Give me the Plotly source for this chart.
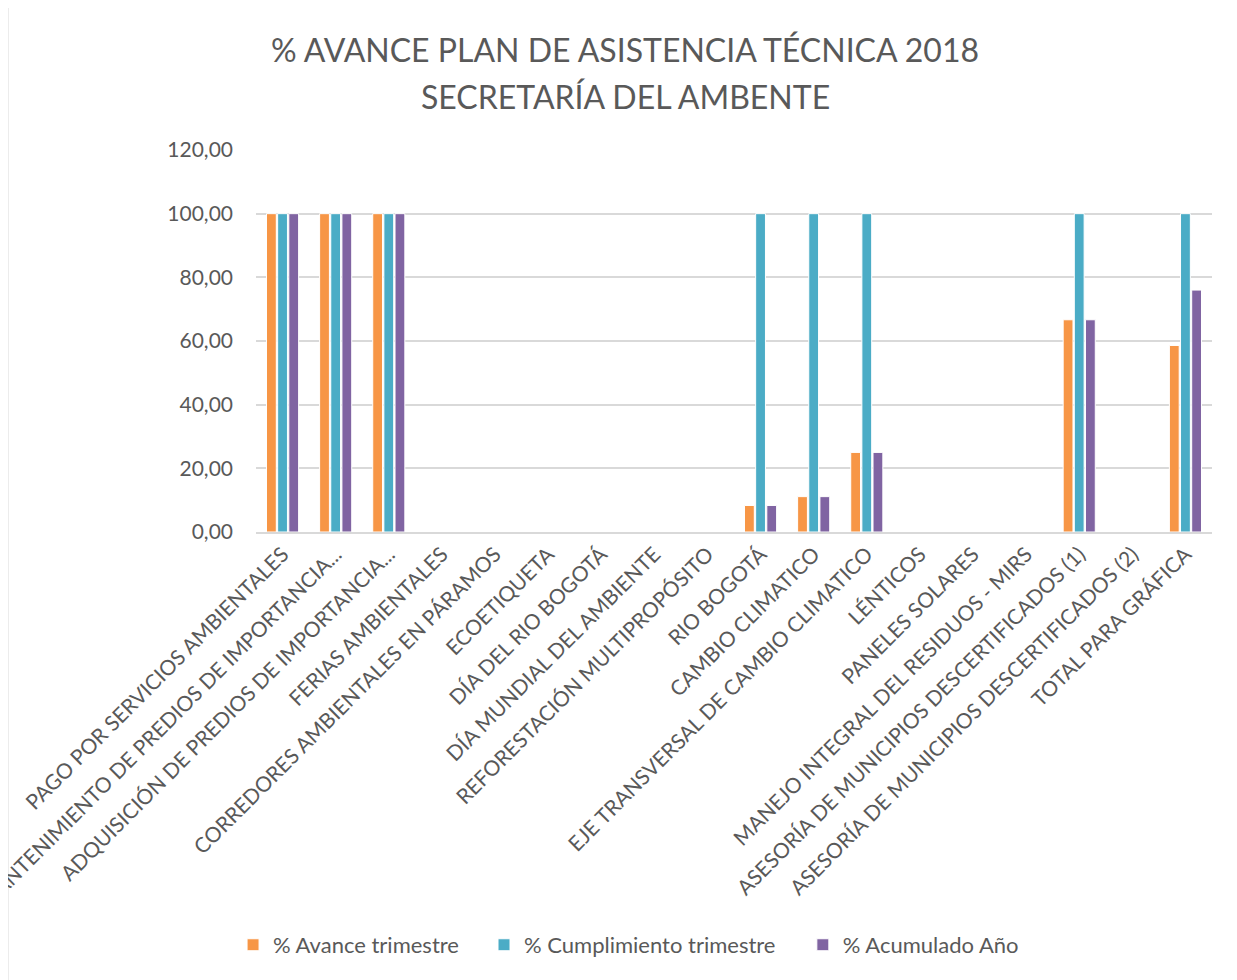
import plotly.graph_objects as go

categories = [
    "PAGO POR SERVICIOS AMBIENTALES",
    "MANTENIMIENTO DE PREDIOS DE IMPORTANCIA...",
    "ADQUISICIÓN DE PREDIOS DE IMPORTANCIA...",
    "FERIAS AMBIENTALES",
    "CORREDORES AMBIENTALES EN PÁRAMOS",
    "ECOETIQUETA",
    "DÍA DEL RIO BOGOTÁ",
    "DÍA MUNDIAL DEL AMBIENTE",
    "REFORESTACIÓN MULTIPROPÓSITO",
    "RIO BOGOTÁ",
    "CAMBIO CLIMATICO",
    "EJE TRANSVERSAL DE CAMBIO CLIMATICO",
    "LÉNTICOS",
    "PANELES SOLARES",
    "MANEJO INTEGRAL DEL RESIDUOS - MIRS",
    "ASESORÍA DE MUNICIPIOS DESCERTIFICADOS (1)",
    "ASESORÍA DE MUNICIPIOS DESCERTIFICADOS (2)",
    "TOTAL PARA GRÁFICA",
]

avance = [100, 100, 100, 0, 0, 0, 0, 0, 0, 8.33, 11.11, 25, 0, 0, 0, 66.67, 0, 58.6]
cumplimiento = [100, 100, 100, 0, 0, 0, 0, 0, 0, 100, 100, 100, 0, 0, 0, 100, 0, 100]
acumulado = [100, 100, 100, 0, 0, 0, 0, 0, 0, 8.33, 11.11, 25, 0, 0, 0, 66.67, 0, 76.0]

series_names = ["% Avance trimestre", "% Cumplimiento trimestre", "% Acumulado Año"]
colors = ["#F79646", "#4BACC6", "#8064A2"]
title_lines = ["% AVANCE PLAN DE ASISTENCIA TÉCNICA 2018", "SECRETARÍA DEL AMBENTE"]

font_family = "Lato, 'Open Sans', sans-serif"
text_color = "#595959"

legend_ids = ["legend", "legend2", "legend3"]
legend_x = [-0.024, 0.2385, 0.572]

fig = go.Figure()
for name, vals, col, lid in zip(series_names, [avance, cumplimiento, acumulado], colors, legend_ids):
    fig.add_trace(go.Bar(
        x=categories, y=vals, name=name, legend=lid, showlegend=True,
        marker=dict(color=col, line=dict(color="white", width=1)),
    ))

legend_common = dict(orientation="h", y=-1.081, yanchor="middle", xanchor="left",
                     font=dict(size=22, color=text_color), bgcolor="rgba(0,0,0,0)",
                     itemwidth=30)

fig.update_layout(
    width=1237, height=980,
    paper_bgcolor="white", plot_bgcolor="white",
    separators=",.",
    showlegend=True,
    barmode="group", bargap=0.37, bargroupgap=0.12,
    margin=dict(l=248, r=33, t=142, b=456),
    font=dict(family=font_family, color=text_color),
    legend=dict(x=legend_x[0], **legend_common),
    legend2=dict(x=legend_x[1], **legend_common),
    legend3=dict(x=legend_x[2], **legend_common),
    xaxis=dict(
        tickangle=-45, tickfont=dict(size=21, color=text_color),
        showgrid=False, showline=True, linecolor="#d9d9d9", linewidth=1.5,
        ticks="", automargin=False,
    ),
    yaxis=dict(
        range=[0, 120], dtick=20, tickformat=".2f",
        tickfont=dict(size=21, color=text_color),
        showgrid=True, gridcolor="#d9d9d9", gridwidth=1.5,
        zeroline=False, showline=False, ticks="", ticklabelstandoff=22,
        automargin=False,
    ),
)
for line, ypos in zip(title_lines, [1.262, 1.141]):
    fig.add_annotation(text=line, xref="paper", yref="paper", x=0.386, y=ypos,
                       xanchor="center", yanchor="middle", showarrow=False,
                       font=dict(family=font_family, size=32, color=text_color))
fig.add_shape(type="rect", xref="paper", yref="paper",
              x0=-0.2594, x1=1.03, y0=-1.18, y1=1.4,
              line=dict(color="#d9d9d9", width=1), layer="below")

fig.write_html("out.html")
